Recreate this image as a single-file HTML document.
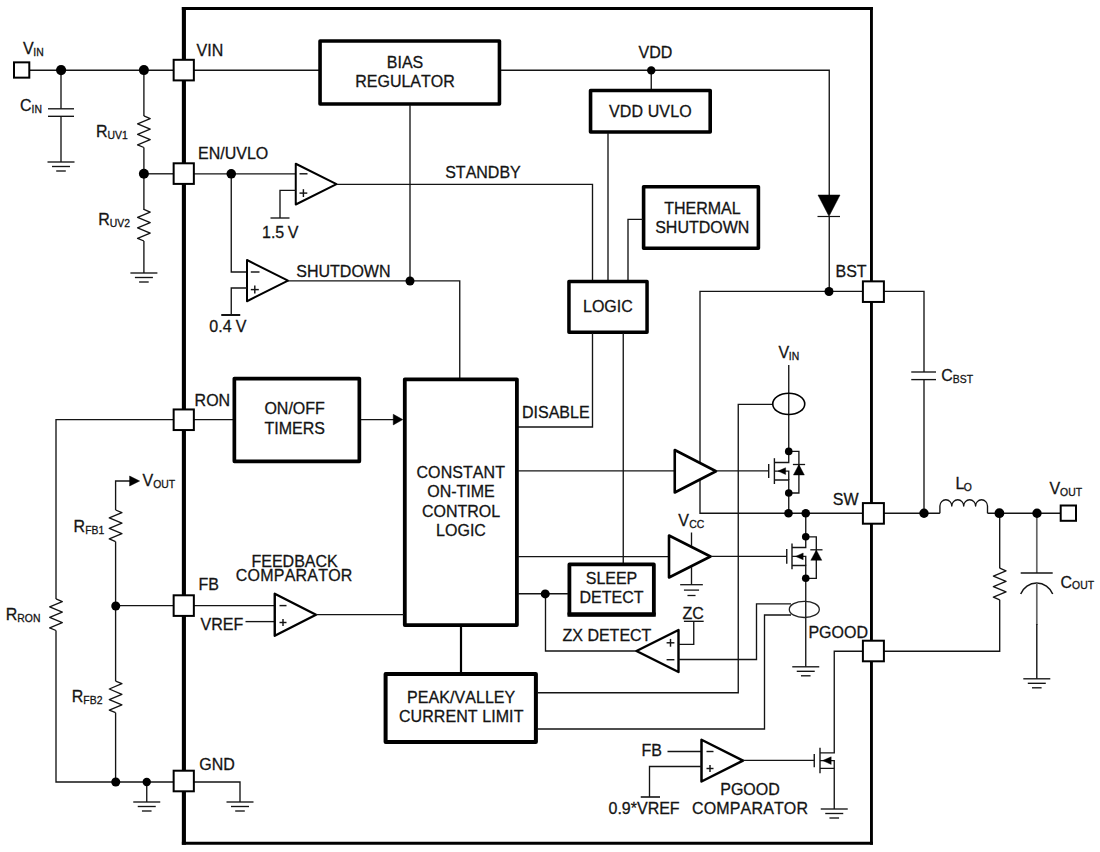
<!DOCTYPE html>
<html><head><meta charset="utf-8"><title>Block Diagram</title>
<style>
html,body{margin:0;padding:0;background:#fff;}
body{width:1100px;height:852px;overflow:hidden;}
svg{display:block;}
svg text{font-family:"Liberation Sans",sans-serif;fill:#141414;font-kerning:none;stroke:#141414;stroke-width:0.28px;}
</style></head><body>
<svg width="1100" height="852" viewBox="0 0 1100 852">
<rect x="0" y="0" width="1100" height="852" fill="#ffffff"/>
<line x1="183.9" y1="6.95" x2="183.9" y2="844.75" stroke="#000" stroke-width="4.1"/>
<line x1="181.85" y1="8.5" x2="872.9" y2="8.5" stroke="#000" stroke-width="3.1"/>
<line x1="871.45" y1="6.95" x2="871.45" y2="844.75" stroke="#000" stroke-width="2.9"/>
<line x1="181.85" y1="843.3" x2="872.9" y2="843.3" stroke="#000" stroke-width="2.9"/>
<line x1="30" y1="70.2" x2="173" y2="70.2" stroke="#141414" stroke-width="1.35"/>
<rect x="13.999999999999998" y="62.35" width="15.3" height="15.3" fill="#fff" stroke="#000" stroke-width="2.0"/>
<text x="22.9" y="53.8" font-size="16">V<tspan font-size="10.4" dy="1.9" dx="-0.3">IN</tspan></text>
<line x1="61" y1="70.2" x2="61" y2="108.8" stroke="#141414" stroke-width="1.35"/>
<line x1="48" y1="108.8" x2="74" y2="108.8" stroke="#141414" stroke-width="1.35"/>
<line x1="48" y1="116.3" x2="74" y2="116.3" stroke="#141414" stroke-width="1.35"/>
<line x1="61" y1="116.3" x2="61" y2="162" stroke="#141414" stroke-width="1.35"/>
<line x1="47.5" y1="162" x2="74.5" y2="162" stroke="#141414" stroke-width="1.35"/>
<line x1="52.0" y1="166.5" x2="70.0" y2="166.5" stroke="#141414" stroke-width="1.35"/>
<line x1="56.2" y1="171.0" x2="65.8" y2="171.0" stroke="#141414" stroke-width="1.35"/>
<text x="20" y="111" font-size="16">C<tspan font-size="10.4" dy="1.9" dx="0">IN</tspan></text>
<line x1="143.9" y1="70.2" x2="143.9" y2="115.9" stroke="#141414" stroke-width="1.35"/>
<polyline points="143.9,115.9 150.2,118.53 137.6,123.8 150.2,129.07 137.6,134.33 150.2,139.6 137.6,144.87 143.9,147.5" fill="none" stroke="#141414" stroke-width="1.35" stroke-linejoin="round"/>
<line x1="143.9" y1="147.5" x2="143.9" y2="210" stroke="#141414" stroke-width="1.35"/>
<text x="96" y="137" font-size="16">R<tspan font-size="10.4" dy="1.9" dx="0">UV1</tspan></text>
<line x1="143.9" y1="173.8" x2="173" y2="173.8" stroke="#141414" stroke-width="1.35"/>
<polyline points="143.9,209.4 150.2,212.03 137.6,217.3 150.2,222.57 137.6,227.83 150.2,233.1 137.6,238.37 143.9,241.0" fill="none" stroke="#141414" stroke-width="1.35" stroke-linejoin="round"/>
<line x1="143.9" y1="241" x2="143.9" y2="273" stroke="#141414" stroke-width="1.35"/>
<line x1="130.4" y1="273" x2="157.4" y2="273" stroke="#141414" stroke-width="1.35"/>
<line x1="134.9" y1="277.5" x2="152.9" y2="277.5" stroke="#141414" stroke-width="1.35"/>
<line x1="139.1" y1="282.0" x2="148.70000000000002" y2="282.0" stroke="#141414" stroke-width="1.35"/>
<text x="98.3" y="224.7" font-size="16">R<tspan font-size="10.4" dy="1.9" dx="0">UV2</tspan></text>
<line x1="194" y1="70.2" x2="320" y2="70.2" stroke="#141414" stroke-width="1.35"/>
<rect x="320.05" y="41.05" width="179.4" height="62.9" fill="none" stroke="#000" stroke-width="3.6" stroke-linejoin="round"/>
<text x="405" y="68" font-size="16" text-anchor="middle" >BIAS</text>
<text x="405" y="87.4" font-size="16" text-anchor="middle" >REGULATOR</text>
<text x="196.6" y="56.2" font-size="16" text-anchor="start" >VIN</text>
<polyline points="501,70.2 829.25,70.2 829.25,195" fill="none" stroke="#141414" stroke-width="1.35" stroke-linejoin="miter"/>
<text x="638.5" y="57.5" font-size="16" text-anchor="start" >VDD</text>
<line x1="651.25" y1="70.4" x2="651.25" y2="90" stroke="#141414" stroke-width="1.35"/>
<rect x="590.55" y="90.55" width="119.65" height="41.4" fill="none" stroke="#000" stroke-width="3.6" stroke-linejoin="round"/>
<text x="650.4" y="116.75" font-size="16" text-anchor="middle" letter-spacing="0.1">VDD UVLO</text>
<line x1="608" y1="133" x2="608" y2="281" stroke="#141414" stroke-width="1.35"/>
<polygon points="818,195 840,195 829,216.3" fill="#000" stroke="#000" stroke-width="0.5" stroke-linejoin="miter"/>
<line x1="817.5" y1="216.5" x2="840" y2="216.5" stroke="#141414" stroke-width="1.2"/>
<line x1="829.25" y1="216" x2="829.25" y2="291.3" stroke="#141414" stroke-width="1.35"/>
<line x1="410" y1="105" x2="410" y2="281" stroke="#141414" stroke-width="1.35"/>
<text x="198" y="159" font-size="16" text-anchor="start" >EN/UVLO</text>
<line x1="194" y1="173.8" x2="296" y2="173.8" stroke="#141414" stroke-width="1.35"/>
<polygon points="295.75,163.75 295.75,204.5 336.5,184.125" fill="#fff" stroke="#000" stroke-width="2" stroke-linejoin="round"/>
<line x1="299.5" y1="173.8" x2="307.5" y2="173.8" stroke="#141414" stroke-width="1.45"/>
<line x1="299.5" y1="193.1" x2="307.3" y2="193.1" stroke="#141414" stroke-width="1.45"/>
<line x1="303.4" y1="189.2" x2="303.4" y2="197" stroke="#141414" stroke-width="1.45"/>
<polyline points="295.5,190.3 280,190.3 280,218" fill="none" stroke="#141414" stroke-width="1.35" stroke-linejoin="miter"/>
<line x1="270.5" y1="218" x2="289.5" y2="218" stroke="#141414" stroke-width="1.35"/>
<text x="262" y="238.4" font-size="16" text-anchor="start" word-spacing="-1">1.5 V</text>
<polyline points="337,184.3 592.5,184.3 592.5,281" fill="none" stroke="#141414" stroke-width="1.35" stroke-linejoin="miter"/>
<text x="445.2" y="177.7" font-size="16" text-anchor="start" >STANDBY</text>
<polyline points="231.25,173.8 231.25,272 247,272" fill="none" stroke="#141414" stroke-width="1.35" stroke-linejoin="miter"/>
<polygon points="247,260 247,301.25 288,280.625" fill="#fff" stroke="#000" stroke-width="2" stroke-linejoin="round"/>
<line x1="250.8" y1="272" x2="259.5" y2="272" stroke="#141414" stroke-width="1.45"/>
<line x1="250.8" y1="289.6" x2="258.8" y2="289.6" stroke="#141414" stroke-width="1.45"/>
<line x1="254.8" y1="285.6" x2="254.8" y2="293.6" stroke="#141414" stroke-width="1.45"/>
<polyline points="247,288 231.25,288 231.25,315" fill="none" stroke="#141414" stroke-width="1.35" stroke-linejoin="miter"/>
<line x1="221.25" y1="315" x2="240.25" y2="315" stroke="#141414" stroke-width="2"/>
<text x="209.3" y="331.8" font-size="16" text-anchor="start" word-spacing="-0.3">0.4 V</text>
<text x="296.3" y="276.6" font-size="16" text-anchor="start" >SHUTDOWN</text>
<polyline points="288,280.8 459.75,280.8 459.75,378" fill="none" stroke="#141414" stroke-width="1.35" stroke-linejoin="miter"/>
<rect x="643.5999999999999" y="186.70000000000002" width="114.8000000000001" height="61.59999999999999" fill="none" stroke="#000" stroke-width="3.6" stroke-linejoin="round"/>
<text x="702.4" y="214.2" font-size="16" text-anchor="middle" >THERMAL</text>
<text x="702.3" y="232.9" font-size="16" text-anchor="middle" >SHUTDOWN</text>
<polyline points="643,219.3 628,219.3 628,281" fill="none" stroke="#141414" stroke-width="1.35" stroke-linejoin="miter"/>
<rect x="568.95" y="281.45" width="78.09999999999991" height="50.80000000000001" fill="none" stroke="#000" stroke-width="3.5" stroke-linejoin="round"/>
<text x="607.9" y="311.75" font-size="16" text-anchor="middle" >LOGIC</text>
<polyline points="592.5,333 592.5,427 518,427" fill="none" stroke="#141414" stroke-width="1.35" stroke-linejoin="miter"/>
<line x1="623.25" y1="333" x2="623.25" y2="563" stroke="#141414" stroke-width="1.35"/>
<text x="522" y="417.5" font-size="16" text-anchor="start" >DISABLE</text>
<text x="194.6" y="405.6" font-size="16" text-anchor="start" >RON</text>
<line x1="194" y1="419.6" x2="233" y2="419.6" stroke="#141414" stroke-width="1.35"/>
<rect x="234.35" y="378.6" width="124.99999999999999" height="82.74999999999999" fill="none" stroke="#000" stroke-width="3.7" stroke-linejoin="round"/>
<text x="294.6" y="414.3" font-size="16" text-anchor="middle" >ON/OFF</text>
<text x="294.8" y="434.0" font-size="16" text-anchor="middle" >TIMERS</text>
<line x1="361" y1="419.6" x2="394" y2="419.6" stroke="#141414" stroke-width="1.35"/>
<polygon points="393.25,414.3 393.25,424.9 402.75,419.6" fill="#000" stroke="#000" stroke-width="0.5" stroke-linejoin="miter"/>
<rect x="404.79999999999995" y="379.29999999999995" width="112.09999999999998" height="245.8" fill="none" stroke="#000" stroke-width="3.8" stroke-linejoin="round"/>
<text x="460.8" y="478.0" font-size="16" text-anchor="middle" letter-spacing="0.08">CONSTANT</text>
<text x="461" y="497.4" font-size="16" text-anchor="middle" >ON-TIME</text>
<text x="461" y="516.65" font-size="16" text-anchor="middle" >CONTROL</text>
<text x="461" y="535.9" font-size="16" text-anchor="middle" >LOGIC</text>
<polyline points="173,419.6 56,419.6 56,598.9" fill="none" stroke="#141414" stroke-width="1.35" stroke-linejoin="miter"/>
<polyline points="56,598.9 62.3,601.53 49.7,606.8 62.3,612.07 49.7,617.33 62.3,622.6 49.7,627.87 56,630.5" fill="none" stroke="#141414" stroke-width="1.35" stroke-linejoin="round"/>
<polyline points="56,630.5 56,782 173,782" fill="none" stroke="#141414" stroke-width="1.35" stroke-linejoin="miter"/>
<text x="5.8" y="619.9" font-size="16">R<tspan font-size="10.4" dy="1.9" dx="0">RON</tspan></text>
<polyline points="115.6,510 115.6,481 131,481" fill="none" stroke="#141414" stroke-width="1.35" stroke-linejoin="miter"/>
<polygon points="129.6,476 129.6,486 139.6,481" fill="#000" stroke="#000" stroke-width="0.5" stroke-linejoin="miter"/>
<text x="142.6" y="485.6" font-size="16">V<tspan font-size="10.4" dy="1.9" dx="0">OUT</tspan></text>
<polyline points="115.6,510 121.9,512.63 109.3,517.9 121.9,523.17 109.3,528.43 121.9,533.7 109.3,538.97 115.6,541.6" fill="none" stroke="#141414" stroke-width="1.35" stroke-linejoin="round"/>
<text x="73.6" y="531.8" font-size="16">R<tspan font-size="10.4" dy="1.9" dx="0">FB1</tspan></text>
<line x1="115.6" y1="541.6" x2="115.6" y2="681.1" stroke="#141414" stroke-width="1.35"/>
<line x1="115.5" y1="605.6" x2="173" y2="605.6" stroke="#141414" stroke-width="1.35"/>
<polyline points="115.6,681.1 121.9,683.73 109.3,689.0 121.9,694.27 109.3,699.53 121.9,704.8 109.3,710.07 115.6,712.7" fill="none" stroke="#141414" stroke-width="1.35" stroke-linejoin="round"/>
<text x="71.8" y="701.7" font-size="16">R<tspan font-size="10.4" dy="1.9" dx="0">FB2</tspan></text>
<line x1="115.6" y1="712.7" x2="115.6" y2="782" stroke="#141414" stroke-width="1.35"/>
<line x1="146.75" y1="782" x2="146.75" y2="802" stroke="#141414" stroke-width="1.35"/>
<line x1="133.25" y1="802" x2="160.25" y2="802" stroke="#141414" stroke-width="1.35"/>
<line x1="137.75" y1="806.5" x2="155.75" y2="806.5" stroke="#141414" stroke-width="1.35"/>
<line x1="141.95" y1="811.0" x2="151.55" y2="811.0" stroke="#141414" stroke-width="1.35"/>
<text x="198.6" y="590.4" font-size="16" text-anchor="start" >FB</text>
<line x1="194" y1="605.6" x2="275" y2="605.6" stroke="#141414" stroke-width="1.35"/>
<text x="200.5" y="629.9" font-size="16" text-anchor="start" >VREF</text>
<line x1="245.5" y1="621.6" x2="275" y2="621.6" stroke="#141414" stroke-width="1.35"/>
<polygon points="274.75,593.75 274.75,635.75 316,614.75" fill="#fff" stroke="#000" stroke-width="2.4" stroke-linejoin="round"/>
<line x1="279.5" y1="605.6" x2="286.5" y2="605.6" stroke="#141414" stroke-width="1.45"/>
<line x1="279.5" y1="622.5" x2="286.5" y2="622.5" stroke="#141414" stroke-width="1.45"/>
<line x1="283" y1="619" x2="283" y2="626" stroke="#141414" stroke-width="1.45"/>
<line x1="316" y1="614.6" x2="404" y2="614.6" stroke="#141414" stroke-width="1.35"/>
<text x="294.6" y="566.75" font-size="16" text-anchor="middle" >FEEDBACK</text>
<text x="294.2" y="581.4" font-size="16" text-anchor="middle" letter-spacing="0.2">COMPARATOR</text>
<text x="199.25" y="769.75" font-size="16" text-anchor="start" >GND</text>
<polyline points="194,782 240,782 240,802" fill="none" stroke="#141414" stroke-width="1.35" stroke-linejoin="miter"/>
<line x1="226.5" y1="802" x2="253.5" y2="802" stroke="#141414" stroke-width="1.35"/>
<line x1="231.0" y1="806.5" x2="249.0" y2="806.5" stroke="#141414" stroke-width="1.35"/>
<line x1="235.2" y1="811.0" x2="244.8" y2="811.0" stroke="#141414" stroke-width="1.35"/>
<line x1="461" y1="626" x2="461" y2="673" stroke="#000" stroke-width="2.2"/>
<rect x="385.6" y="674.0" width="150.29999999999995" height="67.89999999999998" fill="none" stroke="#000" stroke-width="4.0" stroke-linejoin="round"/>
<text x="461.2" y="703.1" font-size="16" text-anchor="middle" letter-spacing="0.05">PEAK/VALLEY</text>
<text x="461.2" y="722.3" font-size="16" text-anchor="middle" letter-spacing="0.08">CURRENT LIMIT</text>
<polyline points="537,692.7 738.25,692.7 738.25,404.3 773,404.3" fill="none" stroke="#141414" stroke-width="1.35" stroke-linejoin="miter"/>
<polyline points="537,729 764.5,729 764.5,615 791,615" fill="none" stroke="#141414" stroke-width="1.35" stroke-linejoin="miter"/>
<polyline points="829,291.3 700,291.3 700,513.2 863,513.2" fill="none" stroke="#141414" stroke-width="1.35" stroke-linejoin="miter"/>
<line x1="518" y1="470.8" x2="675" y2="470.8" stroke="#141414" stroke-width="1.35"/>
<polygon points="674.75,450 674.75,492.5 716,471.25" fill="#fff" stroke="#000" stroke-width="2.6" stroke-linejoin="round"/>
<line x1="716" y1="470.8" x2="768.75" y2="470.8" stroke="#141414" stroke-width="1.35"/>
<line x1="518" y1="556.6" x2="669" y2="556.6" stroke="#141414" stroke-width="1.35"/>
<polygon points="669,535.5 669,577.5 710.5,556.5" fill="#fff" stroke="#000" stroke-width="2.6" stroke-linejoin="round"/>
<line x1="710.5" y1="556.4" x2="786.75" y2="556.4" stroke="#141414" stroke-width="1.35"/>
<text x="678.3" y="526.4" font-size="16">V<tspan font-size="10.4" dy="1.9" dx="0.3">CC</tspan></text>
<line x1="691.5" y1="532.5" x2="691.5" y2="546" stroke="#141414" stroke-width="1.35"/>
<line x1="691.5" y1="567" x2="691.5" y2="584.7" stroke="#141414" stroke-width="1.35"/>
<line x1="680.16" y1="584.7" x2="702.84" y2="584.7" stroke="#141414" stroke-width="1.3"/>
<line x1="683.94" y1="590.1" x2="699.06" y2="590.1" stroke="#141414" stroke-width="1.3"/>
<line x1="687.468" y1="595.5" x2="695.532" y2="595.5" stroke="#141414" stroke-width="1.3"/>
<rect x="569.4" y="564.4" width="84.45" height="49.95" fill="none" stroke="#000" stroke-width="3.8" stroke-linejoin="round"/>
<line x1="567.5" y1="614.6" x2="655.75" y2="614.6" stroke="#000" stroke-width="4.4"/>
<text x="611.5" y="584.25" font-size="16" text-anchor="middle" >SLEEP</text>
<text x="611.5" y="603" font-size="16" text-anchor="middle" >DETECT</text>
<line x1="518" y1="593.75" x2="568" y2="593.75" stroke="#141414" stroke-width="1.35"/>
<polyline points="545.5,593.75 545.5,651 637,651" fill="none" stroke="#141414" stroke-width="1.35" stroke-linejoin="miter"/>
<polygon points="678.5,630 678.5,672 636.5,651" fill="#fff" stroke="#000" stroke-width="2.4" stroke-linejoin="round"/>
<line x1="666.6" y1="642.8" x2="674.4" y2="642.8" stroke="#141414" stroke-width="1.45"/>
<line x1="670.5" y1="638.9" x2="670.5" y2="646.7" stroke="#141414" stroke-width="1.45"/>
<line x1="666.6" y1="659.7" x2="674.4" y2="659.7" stroke="#141414" stroke-width="1.45"/>
<text x="562.5" y="640.5" font-size="16" text-anchor="start" >ZX DETECT</text>
<text x="682.6" y="618.5" font-size="16" text-anchor="start" >ZC</text>
<line x1="683.9" y1="621.3" x2="703.7" y2="621.3" stroke="#141414" stroke-width="1.35"/>
<polyline points="693.75,621.4 693.75,644.3 678.5,644.3" fill="none" stroke="#141414" stroke-width="1.35" stroke-linejoin="miter"/>
<polyline points="678.5,659.5 756.5,659.5 756.5,603.8 791,603.8" fill="none" stroke="#141414" stroke-width="1.35" stroke-linejoin="miter"/>
<line x1="829" y1="291.3" x2="863" y2="291.3" stroke="#141414" stroke-width="1.35"/>
<text x="835.5" y="276.7" font-size="16" text-anchor="start" >BST</text>
<text x="778.4" y="357.8" font-size="16">V<tspan font-size="10.4" dy="1.9" dx="-0.3">IN</tspan></text>
<line x1="788.75" y1="365" x2="788.75" y2="451" stroke="#141414" stroke-width="1.35"/>
<ellipse cx="788.75" cy="403.9" rx="16" ry="10.6" fill="none" stroke="#000" stroke-width="1.6"/>
<line x1="768.7" y1="464.1" x2="768.7" y2="478.1" stroke="#141414" stroke-width="1.4"/>
<line x1="774.4" y1="458.20000000000005" x2="774.4" y2="484.0" stroke="#141414" stroke-width="1.4"/>
<polyline points="774.4,462.5 788.75,462.5 788.75,451.4" fill="none" stroke="#141414" stroke-width="1.35" stroke-linejoin="miter"/>
<polyline points="774.4,480.0 788.75,480.0 788.75,493" fill="none" stroke="#141414" stroke-width="1.35" stroke-linejoin="miter"/>
<polyline points="774.4,471.1 788.75,471.1 788.75,480.0" fill="none" stroke="#141414" stroke-width="1.35" stroke-linejoin="miter"/>
<polygon points="778.0,471.1 785.6,467.70000000000005 785.6,474.5" fill="#000" stroke="#000" stroke-width="0.4" stroke-linejoin="miter"/>
<polyline points="788.75,451.4 798.9,451.4 798.9,493 788.75,493" fill="none" stroke="#141414" stroke-width="1.35" stroke-linejoin="miter"/>
<polygon points="793.4,475.0 804.4,475.0 798.9,464.6" fill="#000" stroke="#000" stroke-width="0.4" stroke-linejoin="miter"/>
<line x1="792.9" y1="464.5" x2="805.1" y2="464.5" stroke="#141414" stroke-width="1.3"/>
<line x1="788.75" y1="493" x2="788.75" y2="513.2" stroke="#141414" stroke-width="1.35"/>
<text x="832.8" y="504.6" font-size="16" text-anchor="start" >SW</text>
<line x1="805.75" y1="513.2" x2="805.75" y2="536.8" stroke="#141414" stroke-width="1.35"/>
<line x1="786.75" y1="549.1" x2="786.75" y2="563.6999999999999" stroke="#141414" stroke-width="1.4"/>
<line x1="792" y1="543.6" x2="792" y2="569.1999999999999" stroke="#141414" stroke-width="1.4"/>
<polyline points="792,547.5 805.75,547.5 805.75,536.8" fill="none" stroke="#141414" stroke-width="1.35" stroke-linejoin="miter"/>
<polyline points="792,565.5 805.75,565.5 805.75,578.3" fill="none" stroke="#141414" stroke-width="1.35" stroke-linejoin="miter"/>
<polyline points="792,556.4 805.75,556.4 805.75,565.5" fill="none" stroke="#141414" stroke-width="1.35" stroke-linejoin="miter"/>
<polygon points="795.6,556.4 803.2,553.0 803.2,559.8" fill="#000" stroke="#000" stroke-width="0.4" stroke-linejoin="miter"/>
<polyline points="805.75,536.8 816.3,536.8 816.3,578.3 805.75,578.3" fill="none" stroke="#141414" stroke-width="1.35" stroke-linejoin="miter"/>
<polygon points="810.8,560.3 821.8,560.3 816.3,549.9" fill="#000" stroke="#000" stroke-width="0.4" stroke-linejoin="miter"/>
<line x1="810.3" y1="549.8" x2="822.5" y2="549.8" stroke="#141414" stroke-width="1.3"/>
<line x1="805.75" y1="578.3" x2="805.75" y2="666.8" stroke="#141414" stroke-width="1.35"/>
<ellipse cx="804.3" cy="609.4" rx="15" ry="8.1" fill="#fff" fill-opacity="0" stroke="#222" stroke-width="1.3"/>
<line x1="792.25" y1="666.8" x2="819.25" y2="666.8" stroke="#141414" stroke-width="1.35"/>
<line x1="796.75" y1="671.3" x2="814.75" y2="671.3" stroke="#141414" stroke-width="1.35"/>
<line x1="800.95" y1="675.8" x2="810.55" y2="675.8" stroke="#141414" stroke-width="1.35"/>
<text x="808.4" y="637.5" font-size="16" text-anchor="start" >PGOOD</text>
<text x="641.6" y="756.2" font-size="16" text-anchor="start" >FB</text>
<line x1="667.5" y1="751.5" x2="702" y2="751.5" stroke="#141414" stroke-width="1.35"/>
<polygon points="701.5,739.75 701.5,781.5 743,760.625" fill="#fff" stroke="#000" stroke-width="2.5" stroke-linejoin="round"/>
<line x1="706.5" y1="751.5" x2="713.5" y2="751.5" stroke="#141414" stroke-width="1.45"/>
<line x1="706.5" y1="768.5" x2="713.5" y2="768.5" stroke="#141414" stroke-width="1.45"/>
<line x1="710" y1="765" x2="710" y2="772" stroke="#141414" stroke-width="1.45"/>
<polyline points="701.5,766.5 649.5,766.5 649.5,797" fill="none" stroke="#141414" stroke-width="1.35" stroke-linejoin="miter"/>
<line x1="640.75" y1="797" x2="660" y2="797" stroke="#141414" stroke-width="1.6"/>
<text x="608.5" y="813.7" font-size="16" text-anchor="start" >0.9*VREF</text>
<text x="750" y="794.5" font-size="16" text-anchor="middle" >PGOOD</text>
<text x="750.1" y="813.7" font-size="16" text-anchor="middle" letter-spacing="0.15">COMPARATOR</text>
<line x1="743" y1="760.4" x2="814.25" y2="760.4" stroke="#141414" stroke-width="1.35"/>
<line x1="814.25" y1="754" x2="814.25" y2="767.3" stroke="#141414" stroke-width="1.4"/>
<line x1="820" y1="747.75" x2="820" y2="773.25" stroke="#141414" stroke-width="1.4"/>
<polyline points="820,752.8 834.25,752.8 834.25,651.2 863,651.2" fill="none" stroke="#141414" stroke-width="1.35" stroke-linejoin="miter"/>
<polyline points="820,768.3 834.25,768.3 834.25,809" fill="none" stroke="#141414" stroke-width="1.35" stroke-linejoin="miter"/>
<polyline points="820,760.6 834.25,760.6 834.25,768.3" fill="none" stroke="#141414" stroke-width="1.35" stroke-linejoin="miter"/>
<polygon points="822.6,760.6 831.2,756.8 831.2,764.4" fill="#000" stroke="#000" stroke-width="0.4" stroke-linejoin="miter"/>
<line x1="820.75" y1="809" x2="847.75" y2="809" stroke="#141414" stroke-width="1.35"/>
<line x1="825.25" y1="813.5" x2="843.25" y2="813.5" stroke="#141414" stroke-width="1.35"/>
<line x1="829.45" y1="818.0" x2="839.05" y2="818.0" stroke="#141414" stroke-width="1.35"/>
<polyline points="884,291.3 924,291.3 924,372" fill="none" stroke="#141414" stroke-width="1.35" stroke-linejoin="miter"/>
<line x1="911.25" y1="372" x2="936" y2="372" stroke="#141414" stroke-width="1.35"/>
<line x1="911.25" y1="379.6" x2="936" y2="379.6" stroke="#141414" stroke-width="1.35"/>
<line x1="924" y1="379.6" x2="924" y2="513.2" stroke="#141414" stroke-width="1.35"/>
<text x="941.25" y="381.25" font-size="16">C<tspan font-size="10.4" dy="1.9" dx="0">BST</tspan></text>
<line x1="884" y1="513.2" x2="939.9" y2="513.2" stroke="#141414" stroke-width="1.35"/>
<path d="M939.9,513.2 V506 a5.95,6.2 0 0 1 11.9,0 a5.95,6.2 0 0 1 11.9,0 a5.95,6.2 0 0 1 11.9,0 a5.95,6.2 0 0 1 11.9,0 V513.2" fill="none" stroke="#141414" stroke-width="1.35" stroke-linejoin="round"/>
<text x="955.6" y="488.5" font-size="16">L<tspan font-size="10.4" dy="2.0" dx="-0.8">O</tspan></text>
<line x1="987.5" y1="513.2" x2="1061" y2="513.2" stroke="#141414" stroke-width="1.35"/>
<rect x="1060.6999999999998" y="505.5" width="15.3" height="15.3" fill="#fff" stroke="#000" stroke-width="2.0"/>
<text x="1049.4" y="494.0" font-size="16">V<tspan font-size="10.4" dy="1.9" dx="0">OUT</tspan></text>
<line x1="999.7" y1="513.2" x2="999.7" y2="568.2" stroke="#141414" stroke-width="1.35"/>
<polyline points="999.7,568.2 1006.0,570.83 993.4,576.1 1006.0,581.37 993.4,586.63 1006.0,591.9 993.4,597.17 999.7,599.8" fill="none" stroke="#141414" stroke-width="1.35" stroke-linejoin="round"/>
<polyline points="999.7,599.8 999.7,651.2 884,651.2" fill="none" stroke="#141414" stroke-width="1.35" stroke-linejoin="miter"/>
<line x1="1036.8" y1="513.2" x2="1036.8" y2="573" stroke="#666" stroke-width="1.7"/>
<line x1="1020.7" y1="573" x2="1052.7" y2="573" stroke="#141414" stroke-width="1.5"/>
<path d="M1020.7,594.1 A17.1,17.1 0 0 1 1052.7,594.1" fill="none" stroke="#141414" stroke-width="1.5"/>
<line x1="1036.8" y1="583.2" x2="1036.8" y2="625" stroke="#666" stroke-width="1.7"/>
<line x1="1036.8" y1="624" x2="1036.8" y2="678.8" stroke="#141414" stroke-width="1.4"/>
<line x1="1023.3" y1="678.8" x2="1050.3" y2="678.8" stroke="#141414" stroke-width="1.35"/>
<line x1="1027.8" y1="683.3" x2="1045.8" y2="683.3" stroke="#141414" stroke-width="1.35"/>
<line x1="1032.0" y1="687.8" x2="1041.6" y2="687.8" stroke="#141414" stroke-width="1.35"/>
<text x="1060.5" y="587.5" font-size="16">C<tspan font-size="10.4" dy="1.9" dx="0">OUT</tspan></text>
<circle cx="61.1" cy="70.1" r="5.1" fill="#000"/>
<circle cx="143.9" cy="70.1" r="5.0" fill="#000"/>
<circle cx="143.9" cy="173.8" r="5.0" fill="#000"/>
<circle cx="651.25" cy="70.4" r="4.2" fill="#000"/>
<circle cx="829" cy="291.5" r="4.5" fill="#000"/>
<circle cx="231.25" cy="173.8" r="4.8" fill="#000"/>
<circle cx="410" cy="281" r="4.5" fill="#000"/>
<circle cx="115.75" cy="606" r="4.5" fill="#000"/>
<circle cx="115.75" cy="782" r="4.5" fill="#000"/>
<circle cx="146.75" cy="782" r="4.2" fill="#000"/>
<circle cx="545.25" cy="593.9" r="4.5" fill="#000"/>
<circle cx="788.75" cy="451.4" r="3.8" fill="#000"/>
<circle cx="788.75" cy="493" r="3.8" fill="#000"/>
<circle cx="788.5" cy="513.2" r="4.3" fill="#000"/>
<circle cx="805.75" cy="513.2" r="4.3" fill="#000"/>
<circle cx="805.75" cy="536.8" r="3.8" fill="#000"/>
<circle cx="805.75" cy="578.3" r="3.8" fill="#000"/>
<circle cx="924" cy="513.2" r="4.7" fill="#000"/>
<circle cx="999.4" cy="513.2" r="4.9" fill="#000"/>
<circle cx="1037" cy="513.2" r="4.7" fill="#000"/>
<rect x="173.65" y="59.8" width="20.2" height="20.6" fill="#fff" stroke="#000" stroke-width="2.0"/>
<rect x="173.65" y="163.29999999999998" width="20.2" height="20.6" fill="#fff" stroke="#000" stroke-width="2.0"/>
<rect x="173.65" y="409.45" width="20.2" height="20.6" fill="#fff" stroke="#000" stroke-width="2.0"/>
<rect x="173.65" y="595.3000000000001" width="20.2" height="20.6" fill="#fff" stroke="#000" stroke-width="2.0"/>
<rect x="173.65" y="770.7" width="20.2" height="20.6" fill="#fff" stroke="#000" stroke-width="2.0"/>
<rect x="862.9" y="281.34999999999997" width="21.0" height="20.6" fill="#fff" stroke="#000" stroke-width="2.0"/>
<rect x="862.9" y="503.09999999999997" width="21.0" height="20.6" fill="#fff" stroke="#000" stroke-width="2.0"/>
<rect x="862.9" y="640.7" width="21.0" height="20.6" fill="#fff" stroke="#000" stroke-width="2.0"/>
</svg>
</body></html>
